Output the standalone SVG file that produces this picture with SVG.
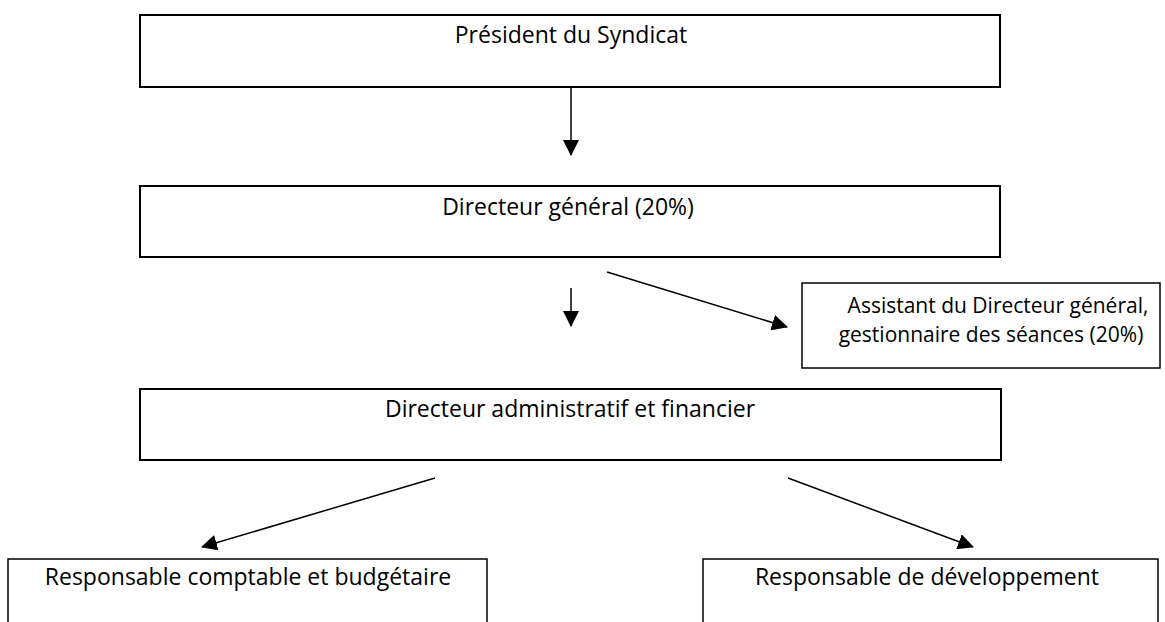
<svg xmlns="http://www.w3.org/2000/svg" width="1165" height="622" viewBox="0 0 1165 622">
<style>
.box{fill:#fff;stroke:#000;stroke-width:2}
.thin{fill:#fff;stroke:#000;stroke-width:1.5}
.lbl{font-family:"Open Sans","Noto Sans",sans-serif;font-size:23px;fill:#000;text-anchor:middle}
.sm{font-size:21px}
.con{stroke:#000;stroke-width:1.5;fill:none;marker-end:url(#ah)}
</style>
<defs>
<marker id="ah" markerUnits="userSpaceOnUse" markerWidth="16" markerHeight="16" viewBox="0 0 16 16" refX="15" refY="8" orient="auto">
<path d="M0,0 L16,8 L0,16 Z" fill="#000"/>
</marker>
</defs>
<g id="president">
<rect class="box" x="140" y="15" width="860" height="72"/>
<text class="lbl" x="571" y="43">Président du Syndicat</text>
</g>
<g id="dg">
<rect class="box" x="140" y="186" width="860" height="71"/>
<text class="lbl" x="568" y="215">Directeur général (20%)</text>
</g>
<g id="assistant">
<rect class="thin" x="802" y="283" width="358" height="85"/>
<text class="lbl sm" x="998" y="313">Assistant du Directeur général,</text>
<text class="lbl sm" x="991" y="342">gestionnaire des séances (20%)</text>
</g>
<g id="daf">
<rect class="box" x="140" y="389" width="861" height="71"/>
<text class="lbl" x="570" y="417">Directeur administratif et financier</text>
</g>
<g id="comptable">
<rect class="thin" x="8" y="559" width="479" height="70"/>
<text class="lbl" x="248" y="585">Responsable comptable et budgétaire</text>
</g>
<g id="developpement">
<rect class="thin" x="703" y="559" width="455" height="70"/>
<text class="lbl" x="927" y="585">Responsable de développement</text>
</g>
<g id="connectors">
<line class="con" x1="571" y1="88" x2="571" y2="155"/>
<line class="con" x1="571" y1="288" x2="571" y2="326"/>
<line class="con" x1="607" y1="272" x2="787" y2="327"/>
<line class="con" x1="435" y1="478" x2="202" y2="547"/>
<line class="con" x1="788" y1="478" x2="973" y2="547"/>
</g>
</svg>
